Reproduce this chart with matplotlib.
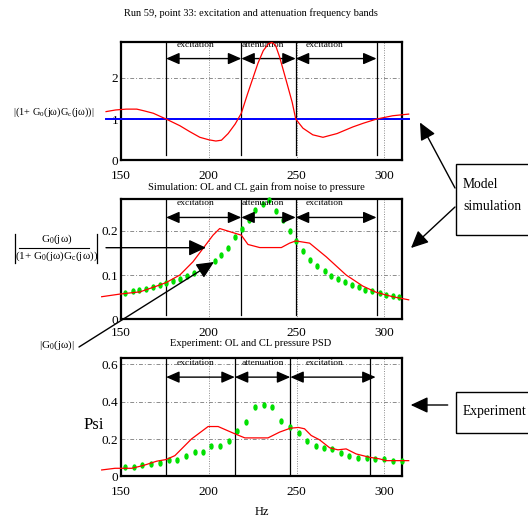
import numpy as np
import matplotlib
matplotlib.use("Agg")
import matplotlib.pyplot as plt
from matplotlib.patches import FancyArrowPatch, Rectangle
from matplotlib.lines import Line2D

plt.rcParams['font.family'] = ['Liberation Serif', 'DejaVu Serif']
plt.rcParams['mathtext.fontset'] = 'custom'
plt.rcParams['mathtext.rm'] = 'Liberation Serif'
plt.rcParams['mathtext.it'] = 'Liberation Serif'

# --- data ---
xticks = [150, 200, 250, 300]

# top: |1 + G0 Gc|
top_f = [141.5, 147, 153, 159, 163, 168.4, 175.7, 183.5, 189, 194.9, 200, 204,
         207.2, 211, 215, 218.5, 222, 225.2, 228, 231, 234, 236, 238, 240.3,
         244, 247.5, 249.5, 253.6, 259.2, 265, 268.5, 273, 282, 288, 295.5,
         304.7, 313.8]
top_v = [1.18, 1.22, 1.24, 1.24, 1.2, 1.14, 1.0, 0.84, 0.7, 0.56, 0.5, 0.47,
         0.49, 0.65, 0.88, 1.14, 1.6, 2.0, 2.35, 2.65, 2.82, 2.85, 2.78, 2.5,
         1.94, 1.4, 1.0, 0.78, 0.62, 0.56, 0.6, 0.65, 0.81, 0.9, 1.0, 1.08, 1.12]
top_ref = [1.0, 1.0]
top_ref_f = [141.5, 313.8]
top_bands = [175.7, 218.5, 249.5, 295.5]

# middle: simulated CL (red) and OL (green) gain
mid_cl_f = [139, 149.4, 160.8, 170.3, 175.7, 183.5, 191, 196.7, 202.4, 206.2,
            211.9, 218.5, 222.3, 229, 241.3, 246, 249.5, 257.4, 266.9, 278.2,
            287.7, 295.3, 304.7, 313.8]
mid_cl_v = [0.051, 0.057, 0.062, 0.075, 0.083, 0.100, 0.130, 0.160, 0.190, 0.205,
            0.198, 0.190, 0.169, 0.162, 0.162, 0.172, 0.177, 0.172, 0.141, 0.100,
            0.075, 0.061, 0.051, 0.044]
mid_ol_f = [152.3, 156.6, 160.4, 164.2, 168, 172.2, 175.9, 179.7, 183.5, 187.6,
            191.5, 195.3, 199, 203.4, 207.2, 211, 214.8, 218.9, 222.7, 226.5,
            230.9, 234.3, 238.5, 242.3, 246, 249.8, 253.6, 257.8, 261.5, 265.9,
            269.7, 273.5, 277.7, 281.4, 285.4, 289.2, 293, 297.2, 301, 304.7, 308.5]
mid_ol_v = [0.060, 0.063, 0.066, 0.069, 0.073, 0.077, 0.082, 0.086, 0.092, 0.098,
            0.105, 0.114, 0.121, 0.132, 0.145, 0.162, 0.186, 0.204, 0.224, 0.247,
            0.260, 0.269, 0.244, 0.224, 0.200, 0.177, 0.154, 0.134, 0.120, 0.108,
            0.098, 0.090, 0.084, 0.077, 0.072, 0.067, 0.063, 0.059, 0.056, 0.053, 0.050]
mid_bands = [175.7, 218.5, 249.5, 295.5]

# bottom: experiment PSD, CL (red) and OL (green)
bot_cl_f = [139, 146.6, 156.1, 162.7, 170.3, 175.7, 180.7, 190.1, 199.6, 205.3,
            214.8, 220.5, 233.7, 240.3, 246.4, 251, 254.5, 258.3, 263, 268.8,
            273.5, 278.2, 283.9, 291.5, 297, 301, 313.8]
bot_cl_v = [0.034, 0.043, 0.043, 0.058, 0.081, 0.09, 0.111, 0.20, 0.267, 0.267,
            0.228, 0.206, 0.206, 0.237, 0.258, 0.262, 0.255, 0.219, 0.196, 0.153,
            0.142, 0.147, 0.12, 0.102, 0.094, 0.084, 0.084]
bot_ol_f = [152.3, 157.4, 162.1, 166.9, 172.2, 177.3, 182, 186.9, 192, 196.8,
            201.5, 206.2, 211.4, 216.3, 221.4, 226.1, 231.3, 236, 241.3, 246,
            251.1, 255.9, 260.8, 265.7, 270.3, 275, 280.1, 285.2, 290.2, 294.9,
            300, 305.1, 309.8]
bot_ol_v = [0.052, 0.052, 0.061, 0.067, 0.072, 0.09, 0.09, 0.111, 0.129, 0.129,
            0.161, 0.165, 0.187, 0.242, 0.29, 0.371, 0.38, 0.371, 0.296, 0.264,
            0.233, 0.192, 0.165, 0.151, 0.144, 0.126, 0.111, 0.099, 0.097, 0.094,
            0.094, 0.084, 0.084]
bot_bands = [175.7, 214.8, 246.4, 291.9]
bot_arrow_end = 295.0

W, H = 528, 523


def fx(x):
    return x / W


def fy(y):
    return 1 - y / H


fig = plt.figure(figsize=(W / 100, H / 100), dpi=100)

# ellipse marker for the green dots
t = np.linspace(0, 2 * np.pi, 24)
dot = np.column_stack([0.6 * np.cos(t), np.sin(t)])


def make_axes(top_px, bot_px, ymax, yticks, yticklabels, xpad=7):
    ax = fig.add_axes([fx(121), fy(bot_px), (402 - 121) / W, (bot_px - top_px) / H])
    ax.set_xlim(150, 310)
    ax.set_ylim(0, ymax)
    ax.set_xticks(xticks)
    ax.set_yticks(yticks)
    ax.set_yticklabels(yticklabels)
    ax.tick_params(length=0, labelsize=9.5)
    ax.tick_params(axis='x', pad=xpad)
    ax.tick_params(axis='y', pad=2)
    for s in ax.spines.values():
        s.set_linewidth(1.6)
    for v in yticks[1:]:
        ax.axhline(v, color='#8c8c8c', lw=0.7, ls=(0, (4, 2, 1, 2)), zorder=0)
    for v in xticks[1:]:
        ax.axvline(v, color='#8c8c8c', lw=0.7, ls=(0, (1, 1.5)), zorder=0)
    return ax


def bands(ax, lines, arrow_y, label_y, ymin, arrow_end=None):
    for v in lines:
        ax.axvline(v, ymin=ymin, color='black', lw=0.9, zorder=1)
    ends = list(lines)
    if arrow_end is not None:
        ends[-1] = arrow_end
    for a, b in zip(ends[:-1], ends[1:]):
        ax.annotate('', xy=(b, arrow_y), xytext=(a, arrow_y),
                    arrowprops=dict(arrowstyle='<|-|>,head_length=0.8,head_width=0.35',
                                    color='black', lw=1.0, mutation_scale=10,
                                    shrinkA=0, shrinkB=0))
    for x, txt in [(192.6, 'excitation'), (231, 'attenuation'), (266, 'excitation')]:
        ax.text(x, label_y, txt, ha='center', va='center', fontsize=6.8)


# top panel
ax1 = make_axes(42, 160.5, 2.86, [0, 1, 2], ['0', '1', '2'])
ax1.plot(top_ref_f, top_ref, color='#0000ff', lw=1.4, clip_on=False, zorder=3)
ax1.plot(top_f, top_v, color='#ff0000', lw=0.9, clip_on=False, zorder=4)
bands(ax1, top_bands, 2.46, 2.78, 0.045)

# middle panel
ax2 = make_axes(199.3, 319.3, 0.271, [0, 0.1, 0.2], ['0', '0.1', '0.2'], xpad=5.5)
ax2.plot(mid_cl_f, mid_cl_v, color='#ff0000', lw=0.9, clip_on=False, zorder=4)
ax2.plot(mid_ol_f, mid_ol_v, ls='none', marker=dot, ms=3.6, color='#00e000',
         clip_on=False, zorder=3)
bands(ax2, mid_bands, 0.230, 0.263, 0.04)

# bottom panel
ax3 = make_axes(358.3, 476.3, 0.633, [0, 0.2, 0.4, 0.6], ['0', '0.2', '0.4', '0.6'])
ax3.plot(bot_cl_f, bot_cl_v, color='#ff0000', lw=0.9, clip_on=False, zorder=4)
ax3.plot(bot_ol_f, bot_ol_v, ls='none', marker=dot, ms=3.6, color='#00e000',
         clip_on=False, zorder=3)
bands(ax3, bot_bands, 0.532, 0.608, 0.015, arrow_end=bot_arrow_end)

# titles and labels
fig.text(fx(251), fy(13), 'Run 59, point 33: excitation and attenuation frequency bands',
         ha='center', va='center', fontsize=7.5)
fig.text(fx(256), fy(187), 'Simulation: OL and CL gain from noise to pressure',
         ha='center', va='center', fontsize=7.6)
fig.text(fx(251), fy(343), 'Experiment: OL and CL pressure PSD',
         ha='center', va='center', fontsize=7.6)
fig.text(fx(94), fy(425), 'Psi', ha='center', va='center', fontsize=12)
fig.text(fx(262), fy(512), 'Hz', ha='center', va='center', fontsize=9)

fig.text(fx(54), fy(112), '|(1+ G$_0$(jω)G$_c$(jω))|', ha='center', va='center', fontsize=7.5)
fig.text(fx(57), fy(345), '|G$_0$(jω)|', ha='center', va='center', fontsize=8)

# fraction label
fig.text(fx(57), fy(239), 'G$_0$(jω)', ha='center', va='center', fontsize=8)
fig.text(fx(57), fy(256), '(1+ G$_0$(jω)G$_c$(jω))', ha='center', va='center', fontsize=8)
fig.add_artist(Line2D([fx(19), fx(89)], [fy(247.7), fy(247.7)], color='black', lw=0.8))
for xb in [15, 97]:
    fig.add_artist(Line2D([fx(xb), fx(xb)], [fy(234), fy(263)], color='black', lw=0.9))


def fig_arrow(x0, y0, x1, y1, scale=14):
    fig.add_artist(FancyArrowPatch((fx(x0), fy(y0)), (fx(x1), fy(y1)),
                                   transform=fig.transFigure,
                                   arrowstyle='-|>,head_length=0.75,head_width=0.35',
                                   mutation_scale=scale, color='black', lw=1.0,
                                   shrinkA=0, shrinkB=0))


fig_arrow(106, 247.7, 206, 247.7)
fig_arrow(79, 347, 214, 262)

# callout boxes
fig.add_artist(Rectangle((fx(456), fy(235)), (560 - 456) / W, (235 - 164) / H,
                         transform=fig.transFigure, fill=False, ec='black', lw=1.0))
fig.text(fx(463), fy(185), 'Model', ha='left', va='center', fontsize=9.8)
fig.text(fx(463), fy(207), 'simulation', ha='left', va='center', fontsize=9.8)
fig_arrow(455, 188, 420, 122.5)
fig_arrow(455, 207, 411, 248)

fig.add_artist(Rectangle((fx(456), fy(433.3)), (560 - 456) / W, (433.3 - 391.7) / H,
                         transform=fig.transFigure, fill=False, ec='black', lw=1.0))
fig.text(fx(463), fy(411.5), 'Experiment', ha='left', va='center', fontsize=9.8)
fig_arrow(447.7, 405, 410.7, 405)

fig.savefig('out.png', dpi=100)
